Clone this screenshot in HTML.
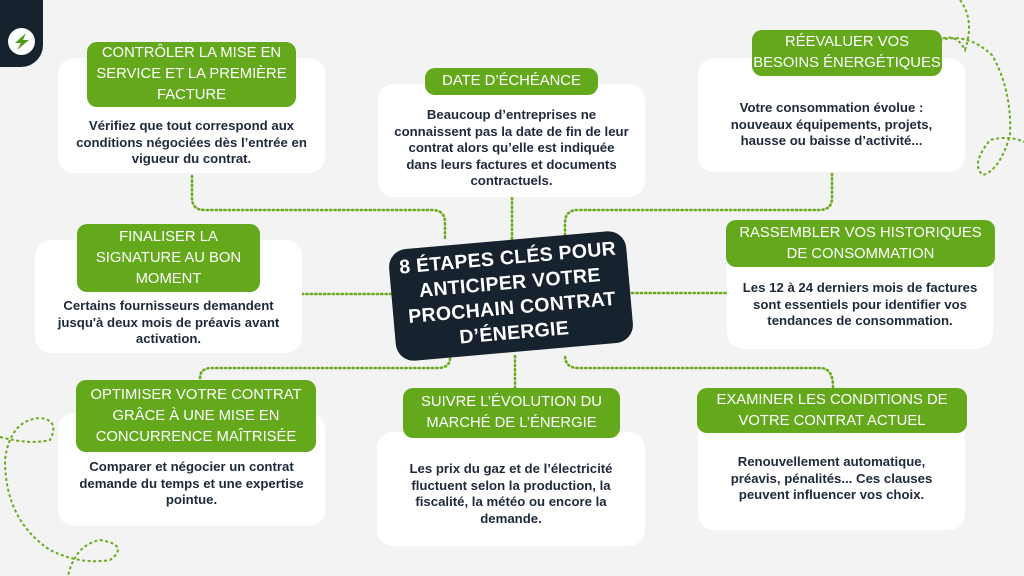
<!DOCTYPE html>
<html><head><meta charset="utf-8"><style>
*{margin:0;padding:0;box-sizing:border-box}
body{width:1024px;height:576px;background:#f3f3f3;position:relative;overflow:hidden;font-family:"Liberation Sans",sans-serif}
.card{position:absolute;background:#fff;border-radius:16px}
.lab{position:absolute;background:#64a81c;color:#fff;border-radius:10px;font-size:14.8px;line-height:21px;text-align:center;display:flex;align-items:center;justify-content:center;letter-spacing:0;white-space:nowrap}
.txt{position:absolute;color:#1e2a3a;font-weight:bold;font-size:13.2px;line-height:16.6px;text-align:center;white-space:nowrap}
svg{position:absolute;left:0;top:0}
</style></head><body>
<svg width="1024" height="576" viewBox="0 0 1024 576">
<g fill="none" stroke="#6aaa1e" stroke-width="2.6" stroke-dasharray="1.2 3.2" stroke-linecap="round">
<path d="M192 176 V198 Q192 210 205 210 H432 Q445 210 445 223 V240"/>
<path d="M512 198 V240"/>
<path d="M832 174 V198 Q832 210 819 210 H578 Q565 210 565 223 V236"/>
<path d="M302 294 H405"/>
<path d="M632 293 H726"/>
<path d="M200 378 Q200 368 212 368 H437 Q450 368 450 358 V350"/>
<path d="M515 356 V388"/>
<path d="M833 387 Q833 368 820 368 H578 Q565 368 565 355"/>
</g>
<g fill="none" stroke="#6aaa1e" stroke-width="2" stroke-dasharray="3 2.5">
<path d="M960 0 Q975 20 965 50 Q955 30 935 42 Q965 30 992 55 Q1012 90 1010 135 Q1000 170 983 175 Q970 165 990 140 Q1010 135 1024 142"/>
<path d="M0 437 Q30 445 50 440 Q60 420 40 418 Q10 420 5 460 Q5 520 50 550 Q80 565 110 560 Q130 545 100 540 Q75 545 68 576"/>
</g>
</svg>
<div style="position:absolute;left:0;top:0;width:43px;height:67px;background:#17222f;border-radius:0 0 22px 0"></div>
<div style="position:absolute;left:8px;top:28px;width:27px;height:27px;background:#fff;border-radius:50%"></div>
<svg width="1024" height="576"><path d="M26 33 L15 43 L21 43 L17 50 L29 40 L23 40 Z" fill="#4e9a1a"/></svg>

<div class="card" style="left:58px;top:58px;width:267px;height:115px"></div>
<div class="card" style="left:378px;top:84px;width:267px;height:113px"></div>
<div class="card" style="left:698px;top:58px;width:267px;height:114px"></div>
<div class="card" style="left:35px;top:240px;width:267px;height:113px"></div>
<div class="card" style="left:727px;top:243px;width:266px;height:106px"></div>
<div class="card" style="left:58px;top:413px;width:267px;height:113px"></div>
<div class="card" style="left:377px;top:432px;width:268px;height:114px"></div>
<div class="card" style="left:698px;top:418px;width:267px;height:112px"></div>

<div class="lab" style="left:87px;top:42px;width:209px;height:65px">CONTRÔLER LA MISE EN<br>SERVICE ET LA PREMIÈRE<br>FACTURE</div>
<div class="lab" style="left:425px;top:68px;width:173px;height:27px">DATE D’ÉCHÉANCE</div>
<div class="lab" style="left:752px;top:30px;width:190px;height:46px">RÉEVALUER VOS<br>BESOINS ÉNERGÉTIQUES</div>
<div class="lab" style="left:77px;top:224px;width:183px;height:68px">FINALISER LA<br>SIGNATURE AU BON<br>MOMENT</div>
<div class="lab" style="left:726px;top:220px;width:269px;height:47px">RASSEMBLER VOS HISTORIQUES<br>DE CONSOMMATION</div>
<div class="lab" style="left:76px;top:380px;width:240px;height:72px">OPTIMISER VOTRE CONTRAT<br>GRÂCE À UNE MISE EN<br>CONCURRENCE MAÎTRISÉE</div>
<div class="lab" style="left:403px;top:388px;width:217px;height:50px">SUIVRE L’ÉVOLUTION DU<br>MARCHÉ DE L’ÉNERGIE</div>
<div class="lab" style="left:697px;top:388px;width:270px;height:45px">EXAMINER LES CONDITIONS DE<br>VOTRE CONTRAT ACTUEL</div>

<div class="txt" style="left:58px;top:118px;width:267px">Vérifiez que tout correspond aux<br>conditions négociées dès l’entrée en<br>vigueur du contrat.</div>
<div class="txt" style="left:378px;top:107px;width:267px">Beaucoup d’entreprises ne<br>connaissent pas la date de fin de leur<br>contrat alors qu’elle est indiquée<br>dans leurs factures et documents<br>contractuels.</div>
<div class="txt" style="left:698px;top:100px;width:267px">Votre consommation évolue :<br>nouveaux équipements, projets,<br>hausse ou baisse d’activité...</div>
<div class="txt" style="left:35px;top:298px;width:267px">Certains fournisseurs demandent<br>jusqu'à deux mois de préavis avant<br>activation.</div>
<div class="txt" style="left:727px;top:280px;width:266px">Les 12 à 24 derniers mois de factures<br>sont essentiels pour identifier vos<br>tendances de consommation.</div>
<div class="txt" style="left:58px;top:459px;width:267px">Comparer et négocier un contrat<br>demande du temps et une expertise<br>pointue.</div>
<div class="txt" style="left:377px;top:461px;width:268px">Les prix du gaz et de l’électricité<br>fluctuent selon la production, la<br>fiscalité, la météo ou encore la<br>demande.</div>
<div class="txt" style="left:698px;top:454px;width:267px">Renouvellement automatique,<br>préavis, pénalités... Ces clauses<br>peuvent influencer vos choix.</div>

<div style="position:absolute;left:392px;top:240px;width:238px;height:112px;background:#17222f;border-radius:18px;transform:rotate(-5deg);color:#fff;font-weight:bold;font-size:19.5px;line-height:25px;text-align:center;display:flex;align-items:center;justify-content:center;letter-spacing:0.3px;white-space:nowrap">8 ÉTAPES CLÉS POUR<br>ANTICIPER VOTRE<br>PROCHAIN CONTRAT<br>D’ÉNERGIE</div>
</body></html>
